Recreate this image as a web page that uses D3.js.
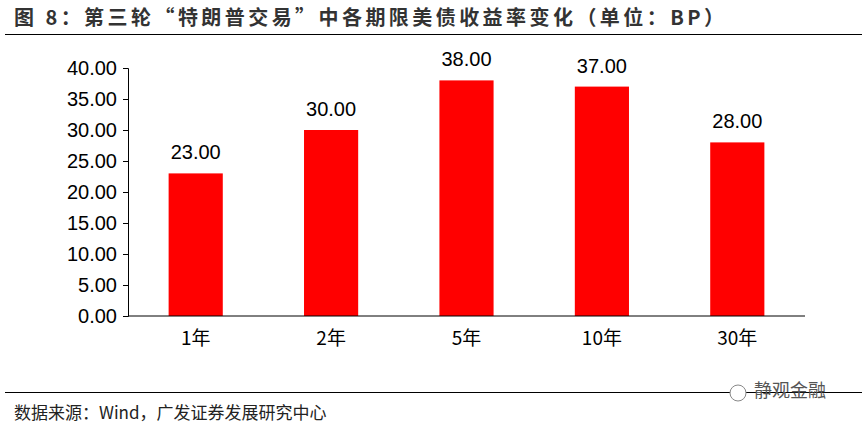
<!DOCTYPE html><html><head><meta charset="utf-8"><script src="https://cdn.jsdelivr.net/npm/d3@7"></script>
<style>body{margin:0;background:#fff}text{font-family:"Liberation Sans","Noto Sans CJK SC",sans-serif}</style></head><body>
<svg id="c" width="866" height="430"></svg>
<script>
const categories=["1年","2年","5年","10年","30年"];
const values=[23,30,38,37,28];
const yTicks=[0,5,10,15,20,25,30,35,40];
const svg=d3.select("#c");
const cjk='"Noto Sans CJK SC",sans-serif';
svg.append("text").attr("x",14).attr("y",25).attr("font-size",20).attr("font-weight","bold").attr("fill","#333").attr("textLength",710).style("font-family",cjk).text("图 8：第三轮“特朗普交易”中各期限美债收益率变化（单位：BP）");
svg.append("line").attr("x1",5).attr("x2",862).attr("y1",34.5).attr("y2",34.5).attr("stroke","#000").attr("stroke-width",1.2);
svg.append("line").attr("x1",5).attr("x2",862).attr("y1",392.5).attr("y2",392.5).attr("stroke","#000").attr("stroke-width",1.2);
svg.append("text").attr("x",14).attr("y",419).attr("font-size",17).attr("fill","#222").style("font-family",cjk).text("数据来源：Wind，广发证券发展研究中心");
svg.append("text").attr("x",754).attr("y",397).attr("font-size",18).attr("fill","#555").style("font-family",cjk).text("静观金融");
svg.append("circle").attr("cx",738).attr("cy",393).attr("r",8).attr("fill","#fff").attr("stroke","#888");
const x=d3.scaleBand().domain(categories).range([128,805]).paddingInner(0.6).paddingOuter(0.3);
const y=d3.scaleLinear().domain([0,40]).range([316,68]);
const g=svg.append("g");
g.selectAll("rect").data(values).join("rect").attr("x",(d,i)=>x(categories[i])).attr("width",x.bandwidth()).attr("y",d=>y(d)).attr("height",d=>y(0)-y(d)).attr("fill","#ff0000");
g.selectAll(".v").data(values).join("text").attr("x",(d,i)=>x(categories[i])+x.bandwidth()/2).attr("y",d=>y(d)-14).attr("text-anchor","middle").attr("font-size",20).attr("fill","#000").text(d=>d.toFixed(2));
const ya=svg.append("g").attr("transform","translate(128,0)").call(d3.axisLeft(y).tickValues(yTicks).tickFormat(d=>d.toFixed(2)).tickSize(5));
ya.selectAll("text").attr("font-size",20).attr("fill","#000").attr("dx",-3);
ya.selectAll("line,path").attr("stroke","#000");
const xa=svg.append("g").attr("transform","translate(0,316)").call(d3.axisBottom(x).tickSize(0));
xa.select("path").attr("stroke","#000").attr("d","M128,0H805");
xa.selectAll("text").attr("font-size",19).attr("fill","#000").attr("dy",26).style("font-family",cjk);
</script></body></html>
